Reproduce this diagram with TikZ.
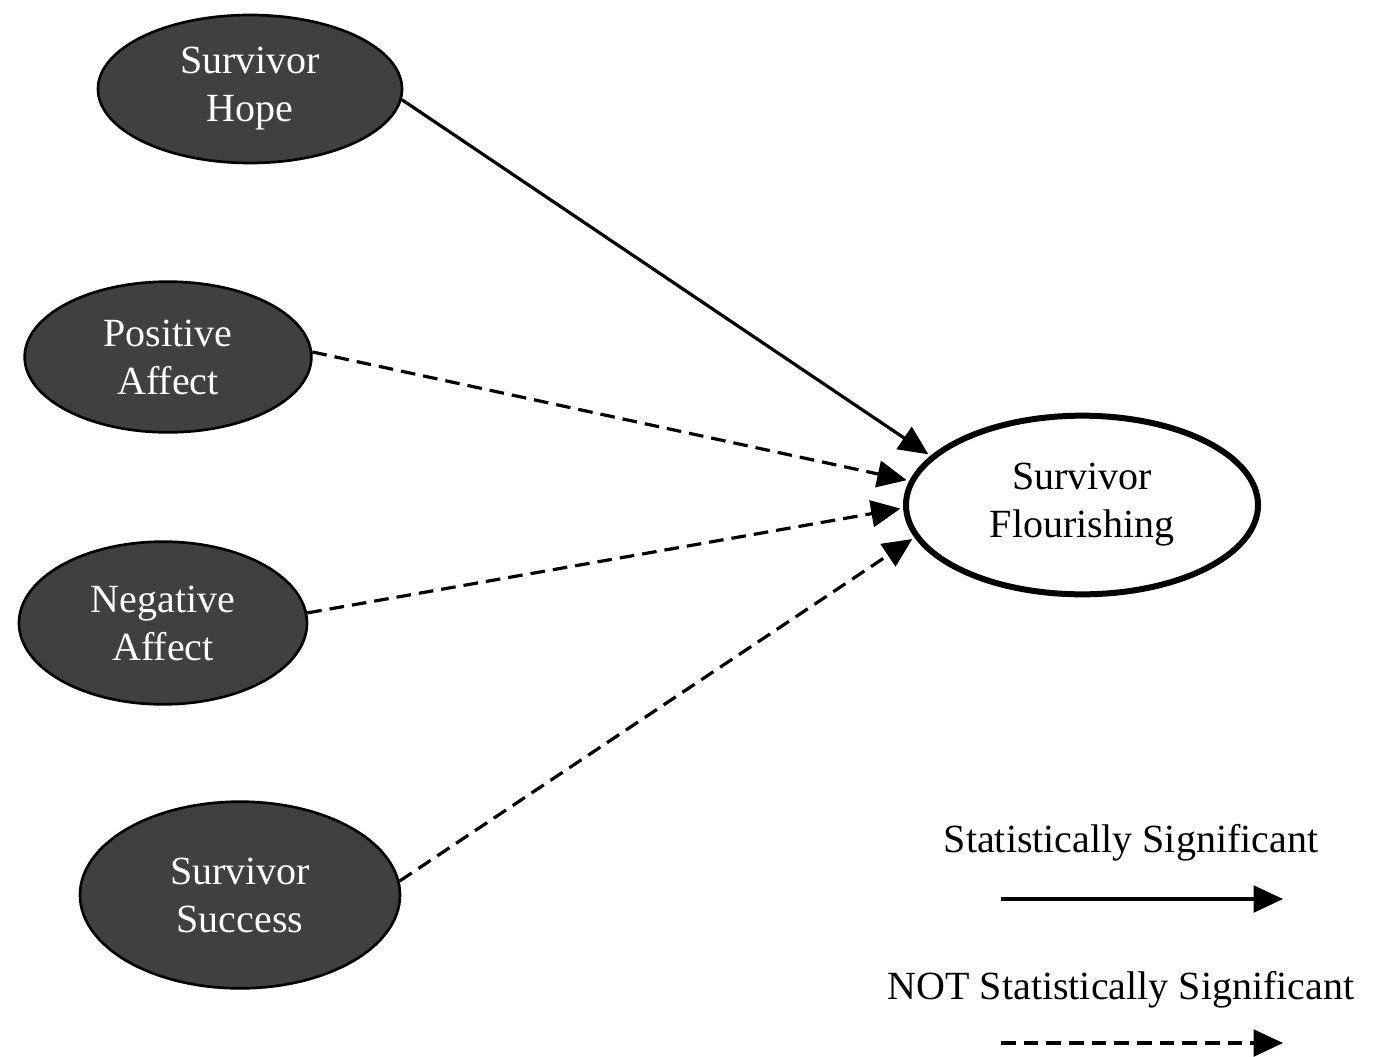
\documentclass[tikz,border=0pt]{standalone}
\usepackage{fontspec}
\setmainfont{Liberation Serif}
\usetikzlibrary{shapes.geometric,arrows.meta}
\definecolor{predfill}{RGB}{64,64,64}

\begin{document}
\begin{tikzpicture}[x=0.75pt,y=0.75pt,yscale=-1,xscale=1,
  predictor/.style={ellipse,draw=black,line width=2pt,fill=predfill,text=white,inner sep=0pt,align=center,font=\fontsize{30}{36}\selectfont},
  outcome/.style={ellipse,draw=black,line width=4.5pt,fill=white,inner sep=0pt,align=center,font=\fontsize{30}{36}\selectfont},
  legendtext/.style={inner sep=0pt,font=\fontsize{30}{36}\selectfont},
  path/.style={line width=2.4pt,-{Triangle[length=22pt,width=20pt]},shorten >=2pt},
  nonsig/.style={path,dash pattern=on 11pt off 6pt}]
\useasboundingbox (0,0) rectangle (1376,1056);

% Ellipses
\node [predictor,minimum width=228pt,minimum height=111pt] (hope) at (250,89) {Survivor\\Hope};
\node [predictor,minimum width=215pt,minimum height=113pt] (posaff) at (168,357) {Positive\\Affect};
\node [predictor,minimum width=216pt,minimum height=122pt] (negaff) at (163,623) {Negative\\Affect};
\node [predictor,minimum width=240pt,minimum height=140pt] (success) at (240,895) {Survivor\\Success};
\node [outcome,minimum width=264pt,minimum height=134pt] (flourish) at (1082,505) {Survivor\\Flourishing};

% Paths
\draw [path] (hope.-4) -- (flourish.162);
\draw [nonsig] (posaff.2) -- (flourish.172);
\draw [nonsig] (negaff.4) -- (flourish.-179);
\draw [nonsig] (success.5) -- (flourish.-169);

% Legend
\node [legendtext] (sigtext) at (1131,843) {Statistically Significant};
\coordinate (sigA) at (1001,899);
\coordinate (sigB) at (1283,899);
\draw [path,shorten >=0pt] (sigA) -- (sigB);
\node [legendtext] (nstext) at (1121,990) {NOT Statistically Significant};
\coordinate (nsA) at (1001,1043);
\coordinate (nsB) at (1283,1043);
\draw [nonsig,shorten >=0pt] (nsA) -- (nsB);

\end{tikzpicture}
\end{document}
